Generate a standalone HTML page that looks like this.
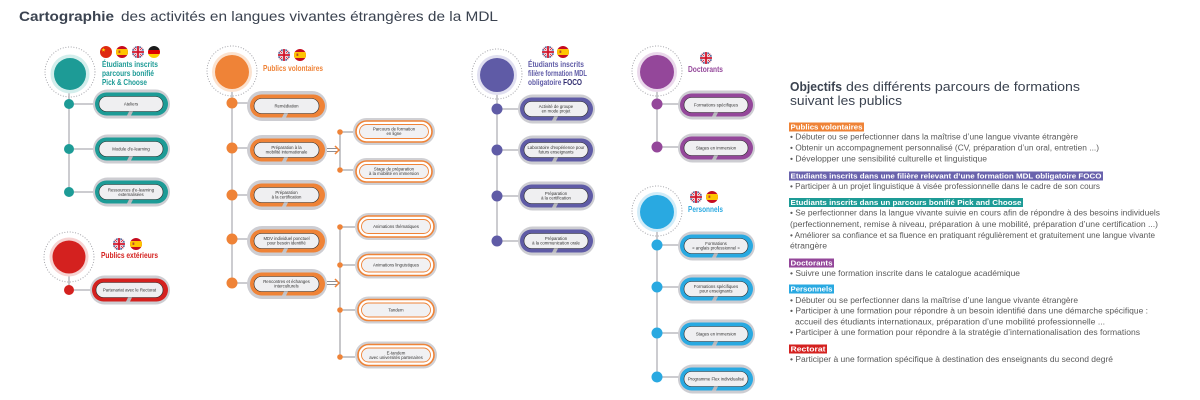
<!DOCTYPE html>
<html><head><meta charset="utf-8">
<style>
html,body{margin:0;padding:0;background:#fff;}
svg{display:block;}
text{font-family:"Liberation Sans",sans-serif;}
.pt{font-size:4.3px;fill:#333;text-anchor:middle;}
.hd{font-size:8.5px;font-weight:bold;}
.bl{font-size:8px;fill:#5a5a5a;}
.lb{font-size:7.5px;font-weight:bold;fill:#fff;}
</style></head>
<body>
<svg width="1200" height="400" viewBox="0 0 1200 400" xmlns="http://www.w3.org/2000/svg">
<defs>
<clipPath id="fc"><circle cx="0" cy="0" r="6"/></clipPath>
<g id="uk" clip-path="url(#fc)"><rect x="-6" y="-6" width="12" height="12" fill="#24357a"/><path d="M-6,-6L6,6M6,-6L-6,6" stroke="#fff" stroke-width="2.4"/><path d="M-6,-6L6,6M6,-6L-6,6" stroke="#cf142b" stroke-width="0.8"/><path d="M0,-6V6M-6,0H6" stroke="#fff" stroke-width="3"/><path d="M0,-6V6M-6,0H6" stroke="#cf142b" stroke-width="1.8"/></g>
<g id="es" clip-path="url(#fc)"><rect x="-6" y="-6" width="12" height="12" fill="#c60b1e"/><rect x="-6" y="-3" width="12" height="6" fill="#ffc400"/><rect x="-3.5" y="-1.5" width="1.8" height="2.4" fill="#b5452f"/></g>
<g id="cn" clip-path="url(#fc)"><rect x="-6" y="-6" width="12" height="12" fill="#de2910"/><polygon points="-2.5,-4.3 -2,-2.8 -0.5,-2.8 -1.7,-1.9 -1.2,-0.4 -2.5,-1.3 -3.8,-0.4 -3.3,-1.9 -4.5,-2.8 -3,-2.8" fill="#ffde00"/></g>
<g id="de" clip-path="url(#fc)"><rect x="-6" y="-6" width="12" height="4" fill="#1a1a1a"/><rect x="-6" y="-2" width="12" height="4" fill="#dd0000"/><rect x="-6" y="2" width="12" height="4" fill="#ffce00"/></g>
</defs>

<!-- Title -->
<text x="19" y="21" font-size="14" font-weight="bold" fill="#3b4350" textLength="95" lengthAdjust="spacingAndGlyphs">Cartographie</text>
<text x="121" y="21" font-size="14" fill="#3b4350" textLength="377" lengthAdjust="spacingAndGlyphs">des activités en langues vivantes étrangères de la MDL</text>

<!-- ========== TEAL ========== -->
<g>
<circle cx="70" cy="72" r="25" fill="none" stroke="#9a9aa0" stroke-width="1" stroke-dasharray="0.1 2.6" stroke-linecap="round"/>
<line x1="69" y1="88" x2="69" y2="192" stroke="#9a9aa0" stroke-width="1"/>
<circle cx="70" cy="74" r="19.5" fill="#d3eeec"/>
<circle cx="70" cy="74" r="16" fill="#1d9b96"/>
<use href="#cn" x="106" y="52"/><use href="#es" x="122" y="52"/><use href="#uk" x="138" y="52"/><use href="#de" x="154" y="52"/>
<text class="hd" x="102" y="67" fill="#1d9b96" textLength="56" lengthAdjust="spacingAndGlyphs">Étudiants inscrits</text>
<text class="hd" x="102" y="76" fill="#1d9b96" textLength="52" lengthAdjust="spacingAndGlyphs">parcours bonifié</text>
<text class="hd" x="102" y="85" fill="#1d9b96" textLength="45" lengthAdjust="spacingAndGlyphs">Pick &amp; Choose</text>
<g stroke="#9a9aa0" stroke-width="1"><line x1="69" y1="104" x2="95" y2="104"/><line x1="69" y1="149" x2="95" y2="149"/><line x1="69" y1="192" x2="95" y2="192"/></g>
<g fill="#1d9b96"><circle cx="69" cy="104" r="5"/><circle cx="69" cy="149" r="5"/><circle cx="69" cy="192" r="5"/></g>
<!-- pills -->
<rect x="93" y="89.5" width="77" height="29" rx="14.5" fill="#cdcdd2"/><rect x="95" y="92.5" width="73" height="23" rx="11.5" fill="#1d9b96"/><rect x="99" y="96.5" width="64" height="15" rx="7.5" fill="#efeff1" stroke="#2a2a2a" stroke-width="0.6"/><path d="M129,111.5h4l-2,4h-4z" fill="#b9b9bd"/>
<text class="pt" x="131" y="105.5">Ateliers</text>
<rect x="93" y="134.5" width="77" height="29" rx="14.5" fill="#cdcdd2"/><rect x="95" y="137.5" width="73" height="23" rx="11.5" fill="#1d9b96"/><rect x="99" y="141.5" width="64" height="15" rx="7.5" fill="#efeff1" stroke="#2a2a2a" stroke-width="0.6"/><path d="M129,156.5h4l-2,4h-4z" fill="#b9b9bd"/>
<text class="pt" x="131" y="150.5">Module d'e-learning</text>
<rect x="93" y="177.5" width="77" height="29" rx="14.5" fill="#cdcdd2"/><rect x="95" y="180.5" width="73" height="23" rx="11.5" fill="#1d9b96"/><rect x="99" y="184.5" width="64" height="15" rx="7.5" fill="#efeff1" stroke="#2a2a2a" stroke-width="0.6"/><path d="M129,199.5h4l-2,4h-4z" fill="#b9b9bd"/>
<text class="pt" x="131" y="191.5">Ressources d'e-learning</text><text class="pt" x="131" y="196">externalisées</text>
</g>

<!-- ========== RED ========== -->
<g>
<circle cx="69" cy="257" r="25" fill="none" stroke="#9a9aa0" stroke-width="1" stroke-dasharray="0.1 2.6" stroke-linecap="round"/>
<line x1="69" y1="270" x2="69" y2="290" stroke="#9a9aa0" stroke-width="1"/>
<circle cx="69" cy="257" r="19.5" fill="#f6d3d2"/>
<circle cx="69" cy="257" r="16.5" fill="#d4211f"/>
<use href="#uk" x="119" y="244"/><use href="#es" x="136" y="244"/>
<text class="hd" x="101" y="258" fill="#d4211f" textLength="57" lengthAdjust="spacingAndGlyphs">Publics extérieurs</text>
<line x1="69" y1="290" x2="92" y2="290" stroke="#9a9aa0" stroke-width="1"/>
<circle cx="69" cy="290" r="5" fill="#d4211f"/>
<rect x="90" y="275.5" width="80" height="29" rx="14.5" fill="#cdcdd2"/><rect x="92" y="278.5" width="76" height="23" rx="11.5" fill="#d4211f"/><rect x="96" y="282.5" width="67" height="15" rx="7.5" fill="#efeff1" stroke="#2a2a2a" stroke-width="0.6"/><path d="M128,297.5h4l-2,4h-4z" fill="#b9b9bd"/>
<text class="pt" x="129.5" y="291.5">Partenariat avec le Rectorat</text>
</g>

<!-- ========== ORANGE ========== -->
<g>
<circle cx="232" cy="71" r="25" fill="none" stroke="#9a9aa0" stroke-width="1" stroke-dasharray="0.1 2.6" stroke-linecap="round"/>
<line x1="232" y1="88" x2="232" y2="283" stroke="#9a9aa0" stroke-width="1"/>
<circle cx="232" cy="72" r="20" fill="#fbe2cf"/>
<circle cx="232" cy="72" r="17" fill="#ef8337"/>
<use href="#uk" x="284" y="55"/><use href="#es" x="300" y="55"/>
<text class="hd" x="263" y="71" fill="#ef8337" textLength="60" lengthAdjust="spacingAndGlyphs">Publics volontaires</text>
<g stroke="#9a9aa0" stroke-width="1"><line x1="232" y1="103" x2="250" y2="103"/><line x1="232" y1="148" x2="250" y2="148"/><line x1="232" y1="195" x2="250" y2="195"/><line x1="232" y1="239" x2="250" y2="239"/><line x1="232" y1="283" x2="250" y2="283"/></g>
<g fill="#ef8337"><circle cx="232" cy="103" r="5.5"/><circle cx="232" cy="148" r="5.5"/><circle cx="232" cy="195" r="5.5"/><circle cx="232" cy="239" r="5.5"/><circle cx="232" cy="283" r="5.5"/></g>

<rect x="247" y="91" width="80" height="30" rx="15" fill="#cdcdd2"/><rect x="250" y="94.5" width="75" height="23" rx="11.5" fill="#ef8337"/><rect x="254" y="98.5" width="65" height="15" rx="7.5" fill="#efeff1" stroke="#2a2a2a" stroke-width="0.6"/><path d="M284,113.5h4l-2,4h-4z" fill="#c3c3c7"/>
<text class="pt" x="286.5" y="107.5">Remédiation</text>

<rect x="247" y="135" width="80" height="30" rx="15" fill="#cdcdd2"/><rect x="250" y="138.5" width="75" height="23" rx="11.5" fill="#ef8337"/><rect x="254" y="142.5" width="65" height="15" rx="7.5" fill="#efeff1" stroke="#2a2a2a" stroke-width="0.6"/><path d="M284,157.5h4l-2,4h-4z" fill="#c3c3c7"/>
<text class="pt" x="286.5" y="149">Préparation à la</text><text class="pt" x="286.5" y="153.5">mobilité internationale</text>

<rect x="247" y="180" width="80" height="30" rx="15" fill="#cdcdd2"/><rect x="250" y="183.5" width="75" height="23" rx="11.5" fill="#ef8337"/><rect x="254" y="187.5" width="65" height="15" rx="7.5" fill="#efeff1" stroke="#2a2a2a" stroke-width="0.6"/><path d="M284,202.5h4l-2,4h-4z" fill="#c3c3c7"/>
<text class="pt" x="286.5" y="194">Préparation</text><text class="pt" x="286.5" y="198.5">à la certification</text>

<rect x="247" y="226" width="80" height="30" rx="15" fill="#cdcdd2"/><rect x="250" y="229.5" width="75" height="23" rx="11.5" fill="#ef8337"/><rect x="254" y="233.5" width="65" height="15" rx="7.5" fill="#efeff1" stroke="#2a2a2a" stroke-width="0.6"/><path d="M284,248.5h4l-2,4h-4z" fill="#c3c3c7"/>
<text class="pt" x="286.5" y="240">MDV individuel ponctuel</text><text class="pt" x="286.5" y="244.5">pour besoin identifié</text>

<rect x="247" y="269" width="80" height="30" rx="15" fill="#cdcdd2"/><rect x="250" y="272.5" width="75" height="23" rx="11.5" fill="#ef8337"/><rect x="254" y="276.5" width="65" height="15" rx="7.5" fill="#efeff1" stroke="#2a2a2a" stroke-width="0.6"/><path d="M284,291.5h4l-2,4h-4z" fill="#c3c3c7"/>
<text class="pt" x="286.5" y="283">Rencontres et échanges</text><text class="pt" x="286.5" y="287.5">interculturels</text>

<!-- arrows -->
<g stroke="#8f8f95" stroke-width="1"><line x1="327" y1="148.5" x2="337" y2="148.5"/><line x1="327" y1="151.5" x2="337" y2="151.5"/><line x1="327" y1="281.5" x2="337" y2="281.5"/><line x1="327" y1="284.5" x2="337" y2="284.5"/></g>
<g fill="none" stroke="#ef8337" stroke-width="1.5"><path d="M335,146l4,4l-4,4"/><path d="M335,279l4,4l-4,4"/></g>

<!-- sub branch 1 -->
<g stroke="#8f8f95" stroke-width="1"><line x1="340" y1="132" x2="340" y2="170"/><line x1="340" y1="132" x2="353" y2="132"/><line x1="340" y1="170" x2="353" y2="170"/></g>
<g fill="#ef8337"><circle cx="340" cy="132" r="2.8"/><circle cx="340" cy="170" r="2.8"/></g>
<!-- sub branch 2 -->
<g stroke="#8f8f95" stroke-width="1"><line x1="340" y1="227" x2="340" y2="357"/><line x1="340" y1="227" x2="355" y2="227"/><line x1="340" y1="265" x2="355" y2="265"/><line x1="340" y1="310" x2="355" y2="310"/><line x1="340" y1="357" x2="355" y2="357"/></g>
<g fill="#ef8337"><circle cx="340" cy="227" r="2.8"/><circle cx="340" cy="265" r="2.8"/><circle cx="340" cy="310" r="2.8"/><circle cx="340" cy="357" r="2.8"/></g>

<!-- sub pills -->
<g>
<rect x="353" y="118" width="82" height="27" rx="13.5" fill="#d0d0d4"/><rect x="356" y="121" width="76" height="21" rx="10.5" fill="#fff" stroke="#ef8337" stroke-width="1.6"/><rect x="359.5" y="124.5" width="69" height="14" rx="7" fill="#f1f1f3" stroke="#ef8337" stroke-width="0.9"/>
<text class="pt" x="394" y="130.5">Parcours de formation</text><text class="pt" x="394" y="135">en ligne</text>

<rect x="353" y="158" width="82" height="27" rx="13.5" fill="#d0d0d4"/><rect x="356" y="161" width="76" height="21" rx="10.5" fill="#fff" stroke="#ef8337" stroke-width="1.6"/><rect x="359.5" y="164.5" width="69" height="14" rx="7" fill="#f1f1f3" stroke="#ef8337" stroke-width="0.9"/>
<text class="pt" x="394" y="170.5">Stage de préparation</text><text class="pt" x="394" y="175">à la mobilité en immersion</text>

<rect x="355" y="213" width="82" height="27" rx="13.5" fill="#d0d0d4"/><rect x="358" y="216" width="76" height="21" rx="10.5" fill="#fff" stroke="#ef8337" stroke-width="1.6"/><rect x="361.5" y="219.5" width="69" height="14" rx="7" fill="#f1f1f3" stroke="#ef8337" stroke-width="0.9"/>
<text class="pt" x="396" y="228">Animations thématiques</text>

<rect x="355" y="251.5" width="82" height="27" rx="13.5" fill="#d0d0d4"/><rect x="358" y="254.5" width="76" height="21" rx="10.5" fill="#fff" stroke="#ef8337" stroke-width="1.6"/><rect x="361.5" y="258" width="69" height="14" rx="7" fill="#f1f1f3" stroke="#ef8337" stroke-width="0.9"/>
<text class="pt" x="396" y="266.5">Animations linguistiques</text>

<rect x="355" y="296.5" width="82" height="27" rx="13.5" fill="#d0d0d4"/><rect x="358" y="299.5" width="76" height="21" rx="10.5" fill="#fff" stroke="#ef8337" stroke-width="1.6"/><rect x="361.5" y="303" width="69" height="14" rx="7" fill="#f1f1f3" stroke="#ef8337" stroke-width="0.9"/>
<text class="pt" x="396" y="311.5">Tandem</text>

<rect x="355" y="341.5" width="82" height="27" rx="13.5" fill="#d0d0d4"/><rect x="358" y="344.5" width="76" height="21" rx="10.5" fill="#fff" stroke="#ef8337" stroke-width="1.6"/><rect x="361.5" y="348" width="69" height="14" rx="7" fill="#f1f1f3" stroke="#ef8337" stroke-width="0.9"/>
<text class="pt" x="396" y="354.5">E-tandem</text><text class="pt" x="396" y="359">avec universités partenaires</text>
</g>
</g>

<!-- ========== PURPLE FOCO ========== -->
<g>
<circle cx="497" cy="74" r="25" fill="none" stroke="#9a9aa0" stroke-width="1" stroke-dasharray="0.1 2.6" stroke-linecap="round"/>
<line x1="497" y1="90" x2="497" y2="241" stroke="#9a9aa0" stroke-width="1"/>
<circle cx="497" cy="75" r="20" fill="#e0dff0"/>
<circle cx="497" cy="75" r="17" fill="#5f5ba6"/>
<use href="#uk" x="548" y="52"/><use href="#es" x="563" y="52"/>
<text class="hd" x="528" y="67" fill="#5f5ba6" textLength="56" lengthAdjust="spacingAndGlyphs">Étudiants inscrits</text>
<text class="hd" x="528" y="76" fill="#5f5ba6" textLength="59" lengthAdjust="spacingAndGlyphs">filière formation MDL</text>
<text class="hd" x="528" y="85" fill="#5f5ba6" textLength="54" lengthAdjust="spacingAndGlyphs">obligatoire <tspan fill="#2e2a6e">FOCO</tspan></text>
<g stroke="#9a9aa0" stroke-width="1"><line x1="497" y1="109" x2="520" y2="109"/><line x1="497" y1="150" x2="520" y2="150"/><line x1="497" y1="196" x2="520" y2="196"/><line x1="497" y1="241" x2="520" y2="241"/></g>
<g fill="#5f5ba6"><circle cx="497" cy="109" r="5.5"/><circle cx="497" cy="150" r="5.5"/><circle cx="497" cy="196" r="5.5"/><circle cx="497" cy="241" r="5.5"/></g>

<rect x="518" y="94.5" width="77" height="29" rx="14.5" fill="#cdcdd2"/><rect x="520" y="97.5" width="73" height="23" rx="11.5" fill="#5f5ba6"/><rect x="524" y="101.5" width="64" height="15" rx="7.5" fill="#efeff1" stroke="#2a2a2a" stroke-width="0.6"/><path d="M554,116.5h4l-2,4h-4z" fill="#b9b9bd"/>
<text class="pt" x="556" y="108">Activité de groupe</text><text class="pt" x="556" y="112.5">en mode projet</text>

<rect x="518" y="135.5" width="77" height="29" rx="14.5" fill="#cdcdd2"/><rect x="520" y="138.5" width="73" height="23" rx="11.5" fill="#5f5ba6"/><rect x="524" y="142.5" width="64" height="15" rx="7.5" fill="#efeff1" stroke="#2a2a2a" stroke-width="0.6"/><path d="M554,157.5h4l-2,4h-4z" fill="#b9b9bd"/>
<text class="pt" x="556" y="149">Laboratoire d'expérience pour</text><text class="pt" x="556" y="153.5">futurs enseignants</text>

<rect x="518" y="181.5" width="77" height="29" rx="14.5" fill="#cdcdd2"/><rect x="520" y="184.5" width="73" height="23" rx="11.5" fill="#5f5ba6"/><rect x="524" y="188.5" width="64" height="15" rx="7.5" fill="#efeff1" stroke="#2a2a2a" stroke-width="0.6"/><path d="M554,203.5h4l-2,4h-4z" fill="#b9b9bd"/>
<text class="pt" x="556" y="195">Préparation</text><text class="pt" x="556" y="199.5">à la certification</text>

<rect x="518" y="226.5" width="77" height="29" rx="14.5" fill="#cdcdd2"/><rect x="520" y="229.5" width="73" height="23" rx="11.5" fill="#5f5ba6"/><rect x="524" y="233.5" width="64" height="15" rx="7.5" fill="#efeff1" stroke="#2a2a2a" stroke-width="0.6"/><path d="M554,248.5h4l-2,4h-4z" fill="#b9b9bd"/>
<text class="pt" x="556" y="240">Préparation</text><text class="pt" x="556" y="244.5">à la communication orale</text>
</g>

<!-- ========== DOCTORANTS ========== -->
<g>
<circle cx="657" cy="71" r="25" fill="none" stroke="#9a9aa0" stroke-width="1" stroke-dasharray="0.1 2.6" stroke-linecap="round"/>
<line x1="657" y1="88" x2="657" y2="147" stroke="#9a9aa0" stroke-width="1"/>
<circle cx="657" cy="72" r="20" fill="#ead8eb"/>
<circle cx="657" cy="72" r="17" fill="#94479a"/>
<use href="#uk" x="706" y="58"/>
<text class="hd" x="688" y="72" fill="#94479a" textLength="35" lengthAdjust="spacingAndGlyphs">Doctorants</text>
<g stroke="#9a9aa0" stroke-width="1"><line x1="657" y1="104" x2="680" y2="104"/><line x1="657" y1="147" x2="680" y2="147"/></g>
<g fill="#94479a"><circle cx="657" cy="104" r="5.5"/><circle cx="657" cy="147" r="5.5"/></g>

<rect x="678" y="90.5" width="77" height="29" rx="14.5" fill="#cdcdd2"/><rect x="680" y="93.5" width="73" height="23" rx="11.5" fill="#94479a"/><rect x="684" y="97.5" width="64" height="15" rx="7.5" fill="#efeff1" stroke="#2a2a2a" stroke-width="0.6"/><path d="M714,112.5h4l-2,4h-4z" fill="#b9b9bd"/>
<text class="pt" x="716" y="106.5">Formations spécifiques</text>
<rect x="678" y="133.5" width="77" height="29" rx="14.5" fill="#cdcdd2"/><rect x="680" y="136.5" width="73" height="23" rx="11.5" fill="#94479a"/><rect x="684" y="140.5" width="64" height="15" rx="7.5" fill="#efeff1" stroke="#2a2a2a" stroke-width="0.6"/><path d="M714,155.5h4l-2,4h-4z" fill="#b9b9bd"/>
<text class="pt" x="716" y="149.5">Stages en immersion</text>
</g>

<!-- ========== PERSONNELS ========== -->
<g>
<circle cx="657" cy="211" r="25" fill="none" stroke="#9a9aa0" stroke-width="1" stroke-dasharray="0.1 2.6" stroke-linecap="round"/>
<line x1="657" y1="228" x2="657" y2="377" stroke="#9a9aa0" stroke-width="1"/>
<circle cx="657" cy="212" r="20" fill="#d2ecf8"/>
<circle cx="657" cy="212" r="17" fill="#29a9e1"/>
<use href="#uk" x="696" y="197"/><use href="#es" x="712" y="197"/>
<text class="hd" x="688" y="212" fill="#29a9e1" textLength="35" lengthAdjust="spacingAndGlyphs">Personnels</text>
<g stroke="#9a9aa0" stroke-width="1"><line x1="657" y1="245" x2="680" y2="245"/><line x1="657" y1="287" x2="680" y2="287"/><line x1="657" y1="333" x2="680" y2="333"/><line x1="657" y1="377" x2="680" y2="377"/></g>
<g fill="#29a9e1"><circle cx="657" cy="245" r="5.5"/><circle cx="657" cy="287" r="5.5"/><circle cx="657" cy="333" r="5.5"/><circle cx="657" cy="377" r="5.5"/></g>

<rect x="678" y="231.5" width="77" height="29" rx="14.5" fill="#cdcdd2"/><rect x="680" y="234.5" width="73" height="23" rx="11.5" fill="#29a9e1"/><rect x="684" y="238.5" width="64" height="15" rx="7.5" fill="#efeff1" stroke="#2a2a2a" stroke-width="0.6"/><path d="M714,253.5h4l-2,4h-4z" fill="#b9b9bd"/>
<text class="pt" x="716" y="245">Formations</text><text class="pt" x="716" y="249.5">« anglais professionnel »</text>

<rect x="678" y="274.5" width="77" height="29" rx="14.5" fill="#cdcdd2"/><rect x="680" y="277.5" width="73" height="23" rx="11.5" fill="#29a9e1"/><rect x="684" y="281.5" width="64" height="15" rx="7.5" fill="#efeff1" stroke="#2a2a2a" stroke-width="0.6"/><path d="M714,296.5h4l-2,4h-4z" fill="#b9b9bd"/>
<text class="pt" x="716" y="288">Formations spécifiques</text><text class="pt" x="716" y="292.5">pour enseignants</text>

<rect x="678" y="319.5" width="77" height="29" rx="14.5" fill="#cdcdd2"/><rect x="680" y="322.5" width="73" height="23" rx="11.5" fill="#29a9e1"/><rect x="684" y="326.5" width="64" height="15" rx="7.5" fill="#efeff1" stroke="#2a2a2a" stroke-width="0.6"/><path d="M714,341.5h4l-2,4h-4z" fill="#b9b9bd"/>
<text class="pt" x="716" y="335.5">Stages en immersion</text>

<rect x="678" y="364.5" width="77" height="29" rx="14.5" fill="#cdcdd2"/><rect x="680" y="367.5" width="73" height="23" rx="11.5" fill="#29a9e1"/><rect x="684" y="371.5" width="64" height="15" rx="7.5" fill="#efeff1" stroke="#2a2a2a" stroke-width="0.6"/><path d="M714,386.5h4l-2,4h-4z" fill="#b9b9bd"/>
<text class="pt" x="716" y="380.5">Programme Flex individualisé</text>
</g>

<!-- ========== RIGHT PANEL ========== -->
<g>
<text x="790" y="91" font-size="12.5" font-weight="bold" fill="#3b4350" textLength="52" lengthAdjust="spacingAndGlyphs">Objectifs</text>
<text x="846" y="91" font-size="12.5" fill="#3b4350" textLength="234" lengthAdjust="spacingAndGlyphs">des différents parcours de formations</text>
<text x="790" y="105" font-size="12.5" fill="#3b4350" textLength="112" lengthAdjust="spacingAndGlyphs">suivant les publics</text>

<rect x="789" y="122.5" width="75" height="9" fill="#ef8337"/>
<text class="lb" x="790.5" y="129.7" textLength="72" lengthAdjust="spacingAndGlyphs">Publics volontaires</text>
<text class="bl" x="790" y="139.5" textLength="288" lengthAdjust="spacingAndGlyphs">• Débuter ou se perfectionner dans la maîtrise d’une langue vivante étrangère</text>
<text class="bl" x="790" y="150.5" textLength="309" lengthAdjust="spacingAndGlyphs">• Obtenir un accompagnement personnalisé (CV, préparation d’un oral, entretien ...)</text>
<text class="bl" x="790" y="161.5" textLength="197" lengthAdjust="spacingAndGlyphs">• Développer une sensibilité culturelle et linguistique</text>

<rect x="789" y="171.5" width="314" height="9" fill="#6a63ad"/>
<text class="lb" x="790.5" y="178.7" textLength="311" lengthAdjust="spacingAndGlyphs">Etudiants inscrits dans une filière relevant d’une formation MDL obligatoire FOCO</text>
<text class="bl" x="790" y="189" textLength="310" lengthAdjust="spacingAndGlyphs">• Participer à un projet linguistique à visée professionnelle dans le cadre de son cours</text>

<rect x="789" y="198" width="234" height="9" fill="#1d9b96"/>
<text class="lb" x="790.5" y="205.2" textLength="231" lengthAdjust="spacingAndGlyphs">Etudiants inscrits dans un parcours bonifié Pick and Choose</text>
<text class="bl" x="790" y="215.5" textLength="370" lengthAdjust="spacingAndGlyphs">• Se perfectionner dans la langue vivante suivie en cours afin de répondre à des besoins individuels</text>
<text class="bl" x="790" y="226.8" textLength="368" lengthAdjust="spacingAndGlyphs">(perfectionnement, remise à niveau, préparation à une mobilité, préparation d’une certification ...)</text>
<text class="bl" x="790" y="237.8" textLength="365" lengthAdjust="spacingAndGlyphs">• Améliorer sa confiance et sa fluence en pratiquant régulièrement et gratuitement une langue vivante</text>
<text class="bl" x="790" y="248.5" textLength="37" lengthAdjust="spacingAndGlyphs">étrangère</text>

<rect x="789" y="258.5" width="45" height="9" fill="#94479a"/>
<text class="lb" x="790.5" y="265.7" textLength="42" lengthAdjust="spacingAndGlyphs">Doctorants</text>
<text class="bl" x="790" y="276" textLength="230" lengthAdjust="spacingAndGlyphs">• Suivre une formation inscrite dans le catalogue académique</text>

<rect x="789" y="284.5" width="45" height="9" fill="#29a9e1"/>
<text class="lb" x="790.5" y="291.7" textLength="42" lengthAdjust="spacingAndGlyphs">Personnels</text>
<text class="bl" x="790" y="302.8" textLength="288" lengthAdjust="spacingAndGlyphs">• Débuter ou se perfectionner dans la maîtrise d’une langue vivante étrangère</text>
<text class="bl" x="790" y="313.5" textLength="358" lengthAdjust="spacingAndGlyphs">• Participer à une formation pour répondre à un besoin identifié dans une démarche spécifique :</text>
<text class="bl" x="795" y="324.5" textLength="310" lengthAdjust="spacingAndGlyphs">accueil des étudiants internationaux, préparation d’une mobilité professionnelle ...</text>
<text class="bl" x="790" y="335" textLength="350" lengthAdjust="spacingAndGlyphs">• Participer à une formation pour répondre à la stratégie d’internationalisation des formations</text>

<rect x="789" y="344.5" width="38" height="9" fill="#d4211f"/>
<text class="lb" x="790.5" y="351.7" textLength="35" lengthAdjust="spacingAndGlyphs">Rectorat</text>
<text class="bl" x="790" y="362" textLength="323" lengthAdjust="spacingAndGlyphs">• Participer à une formation spécifique à destination des enseignants du second degré</text>
</g>
</svg>
</body></html>
